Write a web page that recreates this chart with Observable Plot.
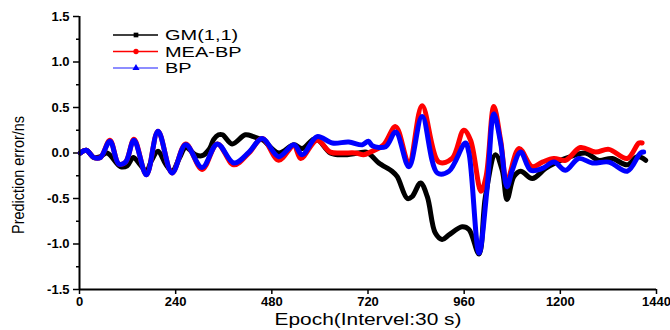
<!DOCTYPE html>
<html>
<head>
<meta charset="utf-8">
<script src="https://cdn.jsdelivr.net/npm/d3@7"></script>
<script src="https://cdn.jsdelivr.net/npm/@observablehq/plot@0.6"></script>
<style>
  html, body { margin: 0; padding: 0; background: #fff; }
  #chart { width: 670px; height: 330px; }
</style>
</head>
<body>
<div id="chart"></div>
<script>
// ---- data ----
const seriesNames = ["GM(1,1)", "MEA-BP", "BP"];

const gmEpoch = [2, 17, 36, 52, 69, 102, 119, 134, 150, 167, 180, 196, 215, 231, 250, 265, 290, 306, 325, 335, 347, 357, 381, 414, 434, 452, 459, 497, 535, 556, 589, 626, 656, 696, 716, 731, 747, 780, 793, 818, 830, 851, 868, 888, 905, 922, 955, 972, 997, 1013, 1038, 1055, 1067, 1084, 1101, 1130, 1163, 1192, 1213, 1263, 1295, 1329, 1367, 1392, 1413];
const gmValue = [0.0, 0.03, -0.05, -0.04, 0.0, -0.15, -0.14, -0.05, -0.12, -0.2, -0.08, 0.02, -0.12, -0.2, -0.05, 0.06, -0.02, -0.03, 0.05, 0.15, 0.2, 0.2, 0.1, 0.2, 0.18, 0.15, 0.14, 0.0, 0.09, 0.05, 0.16, 0.0, -0.02, 0.0, 0.01, -0.04, -0.11, -0.2, -0.26, -0.5, -0.48, -0.33, -0.48, -0.88, -0.95, -0.9, -0.81, -0.84, -1.11, -0.48, -0.02, -0.19, -0.51, -0.26, -0.2, -0.28, -0.17, -0.1, -0.06, 0.0, -0.08, -0.06, -0.13, -0.04, -0.08];

const meaEpoch = [2, 17, 36, 52, 76, 98, 115, 136, 167, 196, 231, 265, 306, 344, 385, 423, 456, 497, 535, 552, 593, 626, 656, 689, 709, 726, 759, 789, 822, 855, 897, 930, 959, 976, 1002, 1015, 1034, 1051, 1067, 1097, 1130, 1155, 1184, 1213, 1250, 1288, 1321, 1367, 1396, 1404];
const meaValue = [0.0, 0.03, -0.05, -0.05, 0.14, -0.12, -0.1, 0.15, -0.24, 0.24, -0.22, 0.1, -0.18, 0.1, -0.13, 0.0, 0.16, -0.08, 0.08, -0.06, 0.14, 0.01, 0.0, 0.0, -0.02, 0.01, 0.09, 0.29, -0.11, 0.52, -0.1, -0.06, 0.25, 0.14, -0.42, -0.25, 0.51, 0.14, -0.3, 0.05, -0.15, -0.1, -0.06, -0.08, 0.06, 0.01, 0.04, -0.06, 0.11, 0.11];

const bpEpoch = [2, 17, 36, 52, 76, 98, 115, 136, 167, 196, 231, 265, 306, 344, 385, 423, 456, 497, 535, 556, 593, 631, 672, 706, 721, 731, 764, 789, 822, 855, 893, 922, 963, 972, 997, 1017, 1034, 1051, 1067, 1080, 1101, 1126, 1155, 1184, 1213, 1246, 1280, 1321, 1367, 1400, 1408];
const bpValue = [0.0, 0.03, -0.05, -0.05, 0.13, -0.12, -0.1, 0.14, -0.24, 0.24, -0.22, 0.09, -0.16, 0.1, -0.11, 0.01, 0.16, -0.04, 0.09, -0.02, 0.18, 0.11, 0.12, 0.09, 0.13, 0.08, 0.07, 0.23, -0.15, 0.4, -0.22, -0.2, 0.11, 0.0, -1.1, -0.4, 0.43, 0.11, -0.37, -0.19, 0.01, -0.19, -0.17, -0.1, -0.19, -0.06, -0.11, -0.1, -0.2, 0.0, 0.01];

const xTicks = [0, 240, 480, 720, 960, 1200, 1440];
const yTicks = [-1.5, -1.0, -0.5, 0.0, 0.5, 1.0, 1.5];
const yMinorTicks = [-1.25, -0.75, -0.25, 0.25, 0.75, 1.25];
const xTitle = "Epoch(Intervel:30 s)";
const yTitle = "Prediction error/ns";

// ---- styles ----
const colors = ["#000000", "#ff0000", "#0000ff"];

const epochs = [gmEpoch, meaEpoch, bpEpoch];
const values = [gmValue, meaValue, bpValue];
const tables = seriesNames.map((name, i) =>
  epochs[i].map((e, j) => ({series: name, epoch: e, value: values[i][j]})));

const font = "'Liberation Sans', Arial, sans-serif";

const chart = Plot.plot({
  width: 670,
  height: 330,
  marginLeft: 79,
  marginRight: 14,
  marginTop: 16,
  marginBottom: 41,
  style: {fontFamily: font, color: "#000", background: "#fff", overflow: "visible"},
  x: {domain: [0, 1440]},
  y: {domain: [-1.5, 1.5]},
  marks: [
    Plot.axisX(xTicks, {tickSize: 5, tickPadding: 2, strokeWidth: 1.5, tickFormat: d => String(d), fontSize: 13, fontWeight: "bold", label: null}),
    Plot.axisY(yTicks, {tickSize: 6, tickPadding: 4, strokeWidth: 1.5, tickFormat: d => d.toFixed(1), fontSize: 13, fontWeight: "bold", label: null}),
    Plot.axisY(yMinorTicks, {tickSize: 3, strokeWidth: 1.5, tickFormat: () => "", label: null}),
    ...tables.map((t, i) => Plot.line(t, {
      x: "epoch", y: "value", stroke: colors[i], strokeWidth: 5,
      strokeLinejoin: "round", strokeLinecap: "round", curve: "catmull-rom"
    })),
    Plot.ruleX([0], {strokeWidth: 2}),
    Plot.ruleY([-1.5], {strokeWidth: 2}),
    Plot.text([xTitle], {frameAnchor: "bottom", dy: 30, fontSize: 17, textAnchor: "middle", lineAnchor: "middle", fontFamily: font, className: "xtitle"}),
    Plot.text([yTitle], {frameAnchor: "left", dx: -61, dy: 22, rotate: -90, fontSize: 16, textAnchor: "middle", lineAnchor: "middle",
      fontFamily: font, className: "ytitle"})
  ]
});

// legend inside the plot area
const svg = d3.select(chart);
const lg = svg.append("g").attr("font-family", font).attr("font-size", 15).attr("text-anchor", "start");
const symbol = [d3.symbolSquare, d3.symbolCircle, d3.symbolTriangle];
seriesNames.forEach((name, i) => {
  const y = 35 + i * 16.5;
  lg.append("line").attr("x1", 113).attr("x2", 158).attr("y1", y).attr("y2", y)
    .attr("stroke", colors[i]).attr("stroke-width", 1.3).attr("stroke-opacity", i === 2 ? 0.6 : 1);
  lg.append("path").attr("d", d3.symbol(symbol[i], 22)()).attr("transform", `translate(136,${y})`)
    .attr("fill", colors[i]);
  lg.append("text").attr("class", "legend-label").attr("x", 165).attr("y", y).attr("dy", "0.35em").attr("fill", "#000").text(name);
});

document.getElementById("chart").appendChild(chart);

// the reference image is stretched horizontally: widen the legend labels and titles
svg.selectAll("text.legend-label").each(function() {
  const len = this.getComputedTextLength();
  d3.select(this).attr("textLength", len * 1.33).attr("lengthAdjust", "spacingAndGlyphs");
});
svg.selectAll("g.xtitle text").attr("textLength", 187).attr("lengthAdjust", "spacingAndGlyphs");
svg.selectAll("g.ytitle text").attr("textLength", 118).attr("lengthAdjust", "spacingAndGlyphs");
</script>
</body>
</html>
